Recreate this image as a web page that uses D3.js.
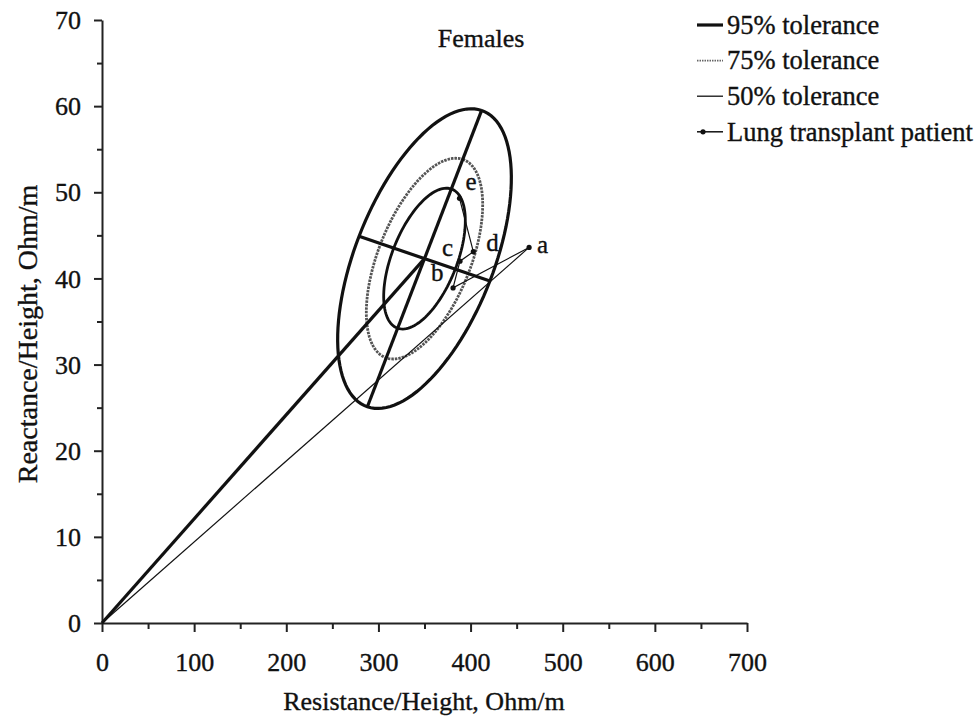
<!DOCTYPE html>
<html>
<head>
<meta charset="utf-8">
<script src="https://d3js.org/d3.v7.min.js"></script>
<style>
	body { margin: 0; background: #fff; }
	svg text { font-family: "Liberation Serif", "Times New Roman", serif; fill: #111; stroke: #111; stroke-width: 0.35px; }
</style>
</head>
<body>
<div id="chart"></div>
<script>

// axis ticks
var xTicks = [0, 100, 200, 300, 400, 500, 600, 700];
var xMinor = [50, 150, 250, 350, 450, 550, 650];
var yTicks = [0, 10, 20, 30, 40, 50, 60, 70];
var yMinor = [5, 15, 25, 35, 45, 55, 65];

// tolerance ellipses (size relative to the 95% ellipse)
var toleranceNames = ["95% tolerance", "75% tolerance", "50% tolerance"];
var toleranceSize = [1, 0.67, 0.47];

// 95% ellipse: centre, end of major axis, end of minor axis (R/H, Xc/H)
var ellipseCenter = [350, 42.3];
var majorEnd = [412, 59.5];
var minorEnd = [421, 39.7];

// lung transplant patient
var patientLabels = ["a", "b", "c", "d", "e"];
var patientR = [463.5, 381, 388.5, 403, 388];
var patientXc = [43.6, 38.9, 42, 43.1, 49.3];

var width = 977,
	height = 719,
	fontFamily = "'Liberation Serif', 'Times New Roman', serif";

var svg = d3.select("#chart")
	.append("svg")
	.attr("width", width)
	.attr("height", height)
	.attr("font-family", fontFamily);

var x = d3.scaleLinear().domain([0, 700]).range([102, 747]);
var y = d3.scaleLinear().domain([0, 70]).range([623, 20]);

var line = d3.line()
	.x(function(d){ return x(d[0]); })
	.y(function(d){ return y(d[1]); });

// x axis
var xAxis = svg.append("g")
	.attr("transform", "translate(0," + y(0) + ")")
	.call(d3.axisBottom(x).tickValues(xTicks).tickSize(9).tickSizeOuter(0).tickPadding(39));

svg.append("g")
	.attr("transform", "translate(0," + y(0) + ")")
	.call(d3.axisBottom(x).tickValues(xMinor).tickSize(6).tickSizeOuter(0).tickFormat(""))
	.select(".domain").remove();

// y axis
var yAxis = svg.append("g")
	.attr("transform", "translate(" + x(0) + ",0)")
	.call(d3.axisLeft(y).tickValues(yTicks).tickSize(8).tickSizeOuter(0).tickPadding(13));

svg.append("g")
	.attr("transform", "translate(" + x(0) + ",0)")
	.call(d3.axisLeft(y).tickValues(yMinor).tickSize(5).tickSizeOuter(0).tickFormat(""))
	.select(".domain").remove();

svg.selectAll("g").attr("font-family", fontFamily);

svg.selectAll(".domain, .tick line")
	.attr("stroke", "#222")
	.attr("stroke-width", 2);

xAxis.selectAll("text").attr("font-size", 26).attr("dy", 0);
yAxis.selectAll("text").attr("font-size", 26).attr("dy", "0.33em");

// axis titles
svg.append("text")
	.attr("x", 424)
	.attr("y", 710)
	.attr("text-anchor", "middle")
	.attr("font-size", 26)
	.text("Resistance/Height, Ohm/m");

svg.append("text")
	.attr("transform", "translate(37,334) rotate(-90)")
	.attr("text-anchor", "middle")
	.attr("font-size", 28)
	.text("Reactance/Height, Ohm/m");

svg.append("text")
	.attr("x", 481)
	.attr("y", 47)
	.attr("text-anchor", "middle")
	.attr("font-size", 26)
	.text("Females");

// ellipse from conjugate semi-axes
var u = [majorEnd[0] - ellipseCenter[0], majorEnd[1] - ellipseCenter[1]];
var v = [minorEnd[0] - ellipseCenter[0], minorEnd[1] - ellipseCenter[1]];

function ellipsePoints(s){

	return d3.range(0, 361, 3).map(function(a){
		var t = a * Math.PI / 180;
		return [ellipseCenter[0] + s * (Math.cos(t) * u[0] + Math.sin(t) * v[0]),
			ellipseCenter[1] + s * (Math.cos(t) * u[1] + Math.sin(t) * v[1])];
	});
}

var ellipseStyle = [
	{stroke: "#111", width: 3.2, dash: null},
	{stroke: "#555", width: 2.8, dash: "2.5,1"},
	{stroke: "#111", width: 2.8, dash: null}
];

svg.append("g")
	.selectAll("path")
	.data(toleranceSize)
	.enter()
	.append("path")
	.attr("d", function(d){ return line(ellipsePoints(d)); })
	.attr("fill", "none")
	.attr("stroke", function(d, i){ return ellipseStyle[i].stroke; })
	.attr("stroke-width", function(d, i){ return ellipseStyle[i].width; })
	.attr("stroke-dasharray", function(d, i){ return ellipseStyle[i].dash; });

// axes of the 95% ellipse and mean vector
var thick = [
	[[ellipseCenter[0] - u[0], ellipseCenter[1] - u[1]], majorEnd],
	[[ellipseCenter[0] - v[0], ellipseCenter[1] - v[1]], minorEnd],
	[[0, 0], ellipseCenter]
];

svg.append("g")
	.selectAll("path")
	.data(thick)
	.enter()
	.append("path")
	.attr("d", line)
	.attr("fill", "none")
	.attr("stroke", "#111")
	.attr("stroke-width", 3.2);

// patient vector and trajectory
var patient = patientR.map(function(r, i){ return [r, patientXc[i]]; });

svg.append("path")
	.attr("d", line([[0, 0], patient[0]]))
	.attr("fill", "none")
	.attr("stroke", "#111")
	.attr("stroke-width", 1.2);

svg.append("path")
	.attr("d", line(patient))
	.attr("fill", "none")
	.attr("stroke", "#111")
	.attr("stroke-width", 1.2);

svg.append("g")
	.selectAll("circle")
	.data(patient)
	.enter()
	.append("circle")
	.attr("cx", function(d){ return x(d[0]); })
	.attr("cy", function(d){ return y(d[1]); })
	.attr("r", 2.6)
	.attr("fill", "#111");

var labelOffset = [[8, 6], [-22, -7], [-18, -5], [13, -1], [6, -8]];

svg.append("g")
	.selectAll("text")
	.data(patient)
	.enter()
	.append("text")
	.attr("x", function(d, i){ return x(d[0]) + labelOffset[i][0]; })
	.attr("y", function(d, i){ return y(d[1]) + labelOffset[i][1]; })
	.attr("font-size", 25)
	.text(function(d, i){ return patientLabels[i]; });

// legend
var legendItems = toleranceNames.concat(["Lung transplant patient"]);
var legendStyle = [
	{stroke: "#111", width: 3.2, dash: null},
	{stroke: "#666", width: 1.8, dash: "1.5,1"},
	{stroke: "#111", width: 1.3, dash: null},
	{stroke: "#111", width: 1.5, dash: null}
];

var legend = svg.append("g")
	.selectAll("g")
	.data(legendItems)
	.enter()
	.append("g")
	.attr("transform", function(d, i){ return "translate(0," + (25 + i * 35.6) + ")"; });

legend.append("line")
	.attr("x1", 697)
	.attr("x2", 723)
	.attr("stroke", function(d, i){ return legendStyle[i].stroke; })
	.attr("stroke-width", function(d, i){ return legendStyle[i].width; })
	.attr("stroke-dasharray", function(d, i){ return legendStyle[i].dash; });

legend.filter(function(d, i){ return i == 3; })
	.append("circle")
	.attr("cx", 703)
	.attr("r", 2.6)
	.attr("fill", "#111");

legend.append("text")
	.attr("x", 727)
	.attr("dy", "0.33em")
	.attr("font-size", 26.5)
	.text(function(d){ return d; });

</script>
</body>
</html>
